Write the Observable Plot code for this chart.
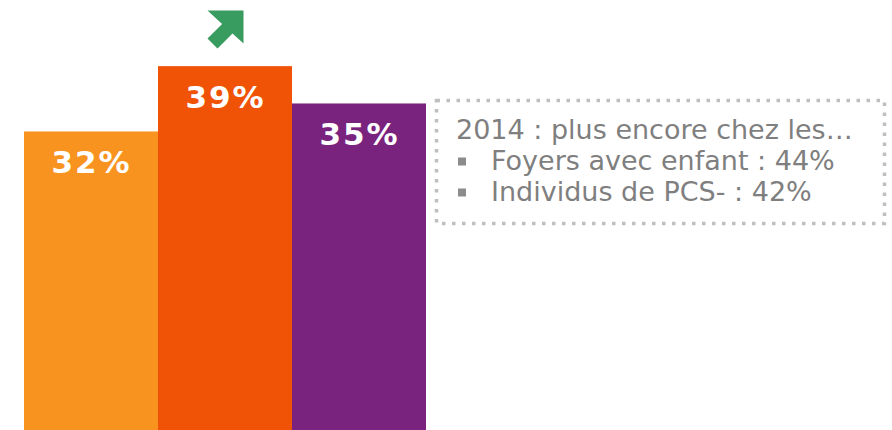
<!DOCTYPE html>
<html><head><meta charset="utf-8">
<script src="https://cdn.jsdelivr.net/npm/d3@7"></script>
<script src="https://cdn.jsdelivr.net/npm/@observablehq/plot@0.6"></script>
<style>
html,body{margin:0;padding:0;background:#fff;}
#chart{position:relative;width:892px;height:430px;overflow:hidden;}
</style></head><body><div id="chart"></div>
<script>
// ---- data ----
const categories = ["2012", "2013", "2014"];
const values = [32, 39, 35];
const valueLabels = ["32%", "39%", "35%"];
const barColors = ["#F7931E", "#F05206", "#7A237E"];
const trendCategory = "2013";
const noteTitle = "2014 : plus encore chez les…";
const noteItems = ["Foyers avec enfant : 44%", "Individus de PCS- : 42%"];

const data = categories.map((c, i) => ({cat: c, value: values[i], label: valueLabels[i], color: barColors[i]}));

// up-right block arrow symbol
const arrowSymbol = {
  draw(ctx) {
    ctx.moveTo(-18, -18);
    ctx.lineTo(18, -18);
    ctx.lineTo(18, 15);
    ctx.lineTo(7, 5);
    ctx.lineTo(-8, 20);
    ctx.lineTo(-18, 10);
    ctx.lineTo(-3.4, -4.6);
    ctx.closePath();
  }
};

const plot = Plot.plot({
  width: 892,
  height: 430,
  margin: 0,
  x: {domain: categories, range: [23, 427], padding: 0, axis: null},
  y: {domain: [0, 46.09], range: [430, 0], axis: null},
  style: {fontFamily: "DejaVu Sans", background: "transparent"},
  marks: [
    Plot.barY(data, {x: "cat", y: "value", fill: "color"}),
    Plot.text(data, {x: "cat", y: "value", text: "label", fill: "white", fontWeight: "bold",
      fontSize: 31, lineAnchor: "bottom", dy: 41, fontFamily: "DejaVu Sans"}),
    Plot.dot([trendCategory], {x: d => d, frameAnchor: "top", dy: 28, symbol: arrowSymbol,
      fill: "#389B5F", stroke: "none"})
  ]
});

const svg = d3.select(plot);
svg.selectAll('g[aria-label="text"] text').attr("letter-spacing", "2px");

// note box
const note = svg.append("g").attr("font-family", "DejaVu Sans").attr("font-size", 27)
  .attr("fill", "#7F7F7F").attr("text-anchor", "start");
note.append("rect")
  .attr("x", 436.5).attr("y", 100.5).attr("width", 448).attr("height", 123)
  .attr("fill", "none").attr("stroke", "#BFBFBF").attr("stroke-width", 3.5)
  .attr("stroke-dasharray", "3.5 6.5");
note.append("text").attr("x", 456).attr("y", 139).attr("text-anchor", "start").text(noteTitle);
noteItems.forEach((t, i) => {
  const base = 170 + 31 * i;
  note.append("rect").attr("x", 458).attr("y", base - 12.5).attr("width", 8).attr("height", 8).attr("fill", "#8C8C8C");
  note.append("text").attr("x", 491).attr("y", base).attr("text-anchor", "start").text(t);
});

document.getElementById("chart").appendChild(plot);
</script>
</body></html>
